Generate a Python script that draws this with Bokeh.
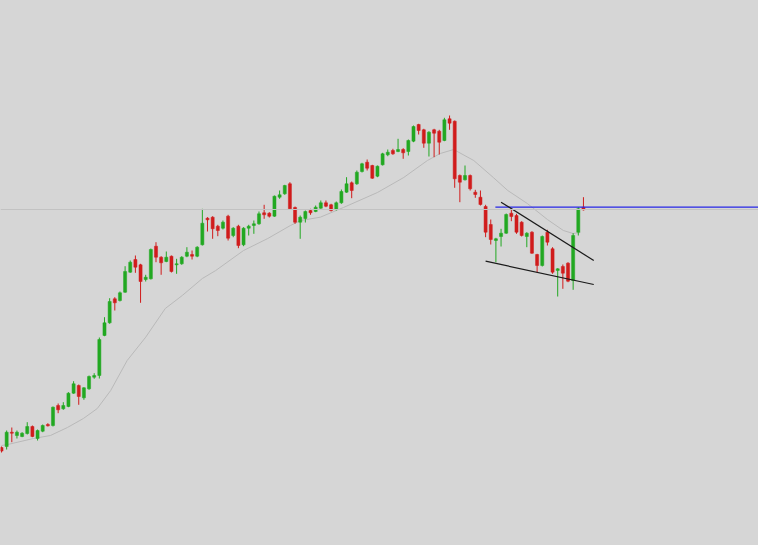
from bokeh.plotting import figure
from bokeh.models import ColumnDataSource, Range1d, Span
from bokeh.embed import file_html
from bokeh.resources import INLINE

# ---- data (price units) ----
opens = [98, 99, 113.3, 110, 109, 112, 119, 107, 114.3, 121, 120, 140, 136.7, 139, 152.3, 160, 147.7, 156.7, 168.3, 170,
         210, 222.7, 246.7, 245, 253.3, 273.3, 286, 280.7, 266, 266.7, 299.3, 288.3, 284, 289.3, 280.7, 281.7, 289.3, 291, 289.3, 300.7,
         327.3, 328.3, 319.3, 317.3, 329.3, 310, 319.3, 300.7, 317.3, 320, 321.7, 332.7, 332.3, 329.3, 348.3, 351.7, 361.7, 338, 323.3, 327,
         335, 334, 337.3, 342.7, 340.7, 336, 342.7, 353.3, 362.7, 361.7, 374, 383.3, 380, 369.3, 380.7, 390.7, 395, 394, 396, 394,
         404.3, 421, 415.7, 402.3, 415.7, 414.3, 405, 426.7, 424.3, 370, 365.7, 370, 353.3, 348.3, 339, 321, 305, 309, 312.3, 332.3,
         330, 323.3, 309, 313.3, 291, 280, 313.3, 296.7, 275, 279, 282.3, 265, 313.3, 338.3]
highs = [99, 115, 118, 115, 113.3, 123.3, 120, 116, 121, 122.3, 139, 142, 143.3, 153.3, 164.3, 161, 158.3, 170, 172.3, 208,
         228.3, 247.3, 248.3, 254, 279.3, 285, 290, 281.7, 270.7, 297, 303.3, 289.3, 294, 290, 286.7, 289.3, 298.3, 295, 299.3, 336.7,
         328.3, 329.3, 320.7, 325, 330.7, 318.3, 320.7, 318.3, 320.7, 325, 334, 340.7, 333.3, 350, 355, 360.7, 363.3, 339, 330, 335,
         336.7, 340, 345, 345, 341.7, 344, 356, 368.3, 364, 375, 382.7, 386, 380.7, 380, 392.7, 396, 396.7, 406.7, 397.3, 406,
         420, 421.7, 416.7, 414.3, 416.7, 415.7, 427.7, 430, 425, 371, 380, 371, 355.7, 355, 340.7, 326, 307.7, 316.7, 332, 336.7,
         331.7, 324.3, 313.3, 314.3, 291.7, 310, 315.7, 298.3, 277.3, 281, 283.3, 312.3, 338.3, 348.3]
lows = [93, 96, 103.3, 107, 108.3, 111, 108.3, 105, 113.3, 119, 119, 132.3, 135.7, 138.3, 151.7, 140.7, 145.7, 155.7, 166.7, 167,
        209.3, 221.7, 235, 244, 252.7, 272.7, 272.7, 242.7, 264, 266, 283.3, 270.7, 283.3, 273, 271.7, 280.7, 288.3, 286, 288.3, 300,
        314, 306.7, 309.3, 316, 305, 308.3, 297.3, 299.3, 310, 311.7, 320.7, 326.7, 328, 328.7, 346.7, 350.7, 335.7, 321.7, 306.7, 323,
        330.7, 333.3, 336.7, 338.3, 334, 335, 341.7, 352.7, 347.3, 360.7, 373, 375, 366.7, 368.3, 380, 389.3, 390.7, 393.3, 386.7, 390,
        403.3, 411, 397.7, 389, 388.3, 391, 404.3, 415.7, 357.7, 343.3, 365, 355, 347.7, 340, 308.3, 301, 283.3, 299, 311.7, 324.3,
        311.7, 309, 298.3, 291.7, 273.3, 279, 300, 271.7, 249, 256.7, 263.3, 255.7, 310, 335]
closes = [94.4, 113.3, 112.3, 113.3, 112.3, 119, 109, 115, 120, 119.7, 138.3, 135.7, 140, 152.3, 161.7, 149, 157.7, 169, 170, 206,
          222.7, 244, 242.7, 252.7, 274, 283.3, 278.3, 264, 268.3, 296, 288.3, 282.7, 288.3, 274, 281.7, 288.3, 293.3, 289.3, 298.3, 322.3,
          325.7, 316.7, 315, 323.3, 307.3, 317.3, 300, 317.3, 319.3, 321.7, 331.7, 330.7, 329.3, 349.3, 350.7, 360, 336.7, 323.3, 328.3, 334,
          332.7, 338.3, 342.7, 339.3, 335, 342.7, 354, 361.7, 355, 373.3, 381.7, 377.3, 367.3, 379.3, 391.7, 393.3, 391.7, 396, 392.7, 405,
          419, 415, 402.3, 413.3, 412.3, 403.3, 425.7, 422.3, 366.7, 363.3, 370, 356.7, 351, 341, 313.3, 306, 306.7, 312.3, 331, 329,
          313.3, 310, 312.3, 292.3, 280, 309, 303.3, 273.3, 276.7, 272.3, 264.3, 310, 336.7, 335.7]

# moving average line, read at candle positions
ma_x = [0, 1.2, 6.2, 9.5, 12.8, 15.9, 18.6, 21.2, 24.4, 28.0, 31.8, 35.1, 39.0, 41.6, 47.0, 51.7, 56.1, 58.1, 61.9,
        66.4, 73.0, 78.1, 82.7, 85.2, 87.8, 91.7, 95.5, 98.3, 102.1, 106.0, 109.1, 111.0, 112.4]
ma_y = [100, 101, 107, 110, 118, 127, 137, 155, 185, 208.3, 237, 250, 267, 275, 295, 307, 320, 325, 328.3,
        338, 353, 368, 385, 392, 396, 385, 368, 355, 342, 326, 315, 312, 313]

grey_level = 336
blue_level = 338.3
blue_start = 95.9
upper_x = [97.0, 115.0]
upper_y = [343.3, 285]
lower_x = [94.0, 115.0]
lower_y = [284.3, 261]

BG = "#d6d6d6"
GREEN = "#22a822"
RED = "#d01c1c"

idx = list(range(len(opens)))
colors = [GREEN if c >= o else RED for o, c in zip(opens, closes)]
tops = [max(o, c) for o, c in zip(opens, closes)]
bots = [min(o, c) for o, c in zip(opens, closes)]
src = ColumnDataSource(dict(x=idx, o=opens, h=highs, l=lows, c=closes, top=tops, bot=bots, color=colors))

p = figure(width=758, height=545, output_backend="svg", toolbar_location=None,
           x_range=Range1d(-0.194, 146.99), y_range=Range1d(0, 545),
           background_fill_color=BG, border_fill_color=BG, min_border=0)
p.axis.visible = False
p.grid.visible = False
p.outline_line_color = None

p.add_layout(Span(location=grey_level, dimension="width", line_color="#c2c2c2", line_width=1))
p.line(ma_x, ma_y, line_color="#b9b9b9", line_width=1)

p.segment(x0="x", y0="h", x1="x", y1="l", line_color="color", line_width=1, source=src)
p.vbar(x="x", top="top", bottom="bot", width=0.6, fill_color="color", line_color="color", line_width=0.5, source=src)

p.ray(x=[blue_start], y=[blue_level], length=0, angle=0, line_color="#2626e6", line_width=1.2)
p.line(upper_x, upper_y, line_color="#1a1a1a", line_width=1.2)
p.line(lower_x, lower_y, line_color="#1a1a1a", line_width=1.2)

html = file_html(p, INLINE)
head, sep, tail = html.rpartition("<body>")
if sep:
    html = head + '<body style="background-color:%s;">' % BG + tail
open("out.html", "w").write(html)
